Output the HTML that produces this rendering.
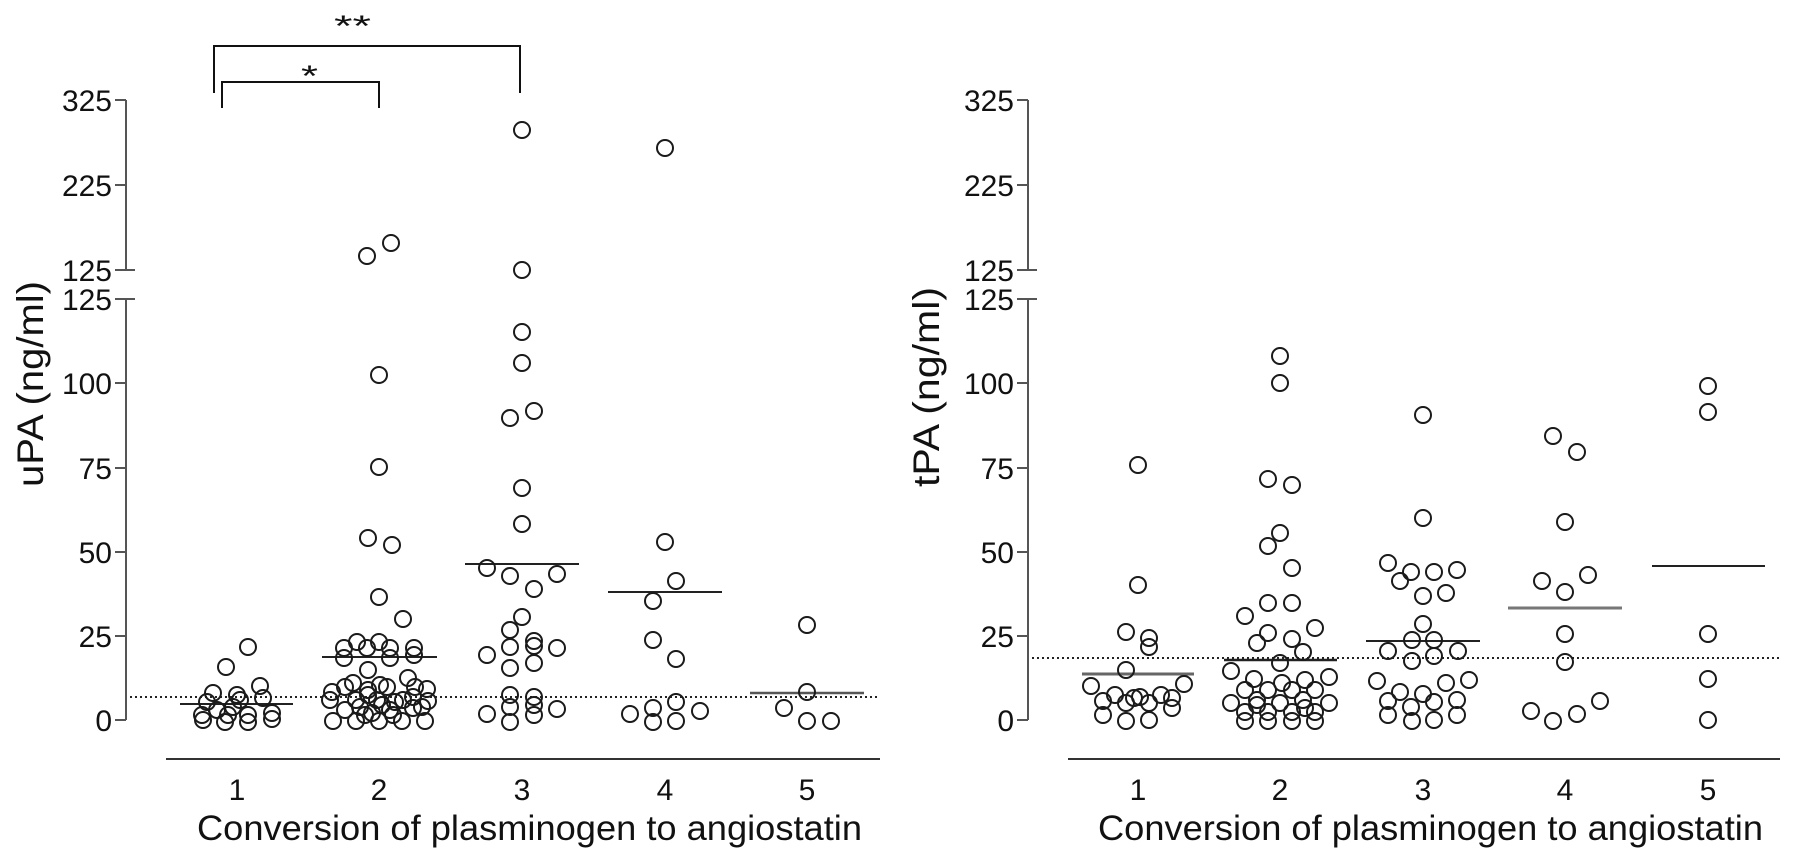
<!DOCTYPE html>
<html><head><meta charset="utf-8"><style>
html,body{margin:0;padding:0;background:#fff;}
svg{display:block;}
text{font-family:"Liberation Sans",Arial,sans-serif;fill:#111;}
.c circle{fill:none;stroke:#1a1a1a;stroke-width:2;}
</style></head><body>
<svg width="1795" height="860" viewBox="0 0 1795 860" xmlns="http://www.w3.org/2000/svg">
<rect width="1795" height="860" fill="#fff"/>

<!-- ============ LEFT PANEL ============ -->
<g stroke="#555" stroke-width="2" fill="none">
  <line x1="126" y1="100" x2="126" y2="270"/>
  <line x1="126" y1="299" x2="126" y2="720"/>
  <line x1="115" y1="100" x2="126" y2="100"/>
  <line x1="115" y1="185" x2="126" y2="185"/>
  <line x1="115" y1="270" x2="135" y2="270"/>
  <line x1="115" y1="299" x2="135" y2="299"/>
  <line x1="115" y1="383" x2="126" y2="383"/>
  <line x1="115" y1="468" x2="126" y2="468"/>
  <line x1="115" y1="552" x2="126" y2="552"/>
  <line x1="115" y1="636" x2="126" y2="636"/>
  <line x1="115" y1="720" x2="126" y2="720"/>
</g>
<g font-size="30" text-anchor="end">
  <text x="112" y="111">325</text>
  <text x="112" y="196">225</text>
  <text x="112" y="281">125</text>
  <text x="112" y="310">125</text>
  <text x="112" y="394">100</text>
  <text x="112" y="479">75</text>
  <text x="112" y="563">50</text>
  <text x="112" y="647">25</text>
  <text x="112" y="731">0</text>
</g>
<text transform="translate(43,384) rotate(-90)" font-size="37" text-anchor="middle" textLength="206" lengthAdjust="spacingAndGlyphs">uPA (ng/ml)</text>
<line x1="166" y1="759" x2="880" y2="759" stroke="#333" stroke-width="2"/>
<g font-size="30" text-anchor="middle">
  <text x="237" y="800">1</text>
  <text x="379" y="800">2</text>
  <text x="522" y="800">3</text>
  <text x="665" y="800">4</text>
  <text x="807" y="800">5</text>
</g>
<text x="197" y="840" font-size="35" textLength="665" lengthAdjust="spacingAndGlyphs">Conversion of plasminogen to angiostatin</text>

<!-- brackets -->
<g stroke="#111" stroke-width="2" fill="none">
  <polyline points="214,93 214,46 520,46 520,93"/>
  <polyline points="222,108 222,82 379,82 379,108"/>
</g>
<text x="334" y="36" font-size="30" textLength="37" lengthAdjust="spacingAndGlyphs">**</text>
<text x="301" y="86" font-size="30" textLength="17" lengthAdjust="spacingAndGlyphs">*</text>

<!-- dotted reference -->
<line x1="130" y1="697" x2="880" y2="697" stroke="#222" stroke-width="2" stroke-dasharray="2 3"/>

<!-- medians -->
<g stroke="#222" stroke-width="2">
  <line x1="180" y1="704" x2="293" y2="704"/>
  <line x1="322" y1="657" x2="437" y2="657"/>
  <line x1="465" y1="564" x2="579" y2="564"/>
  <line x1="608" y1="592" x2="722" y2="592"/>
  <line x1="750" y1="693" x2="864" y2="693" stroke="#555" stroke-width="2.5"/>
</g>

<g class="c">
<!-- group 1 -->
<circle cx="248" cy="647" r="8"/><circle cx="226" cy="667" r="8"/><circle cx="213" cy="693" r="8"/>
<circle cx="237" cy="695" r="8"/><circle cx="260" cy="686" r="8"/><circle cx="263" cy="698" r="8"/>
<circle cx="207" cy="702" r="8"/><circle cx="240" cy="700" r="8"/><circle cx="233" cy="707" r="8"/>
<circle cx="228" cy="715" r="8"/><circle cx="202" cy="715" r="8"/><circle cx="225" cy="722" r="8"/>
<circle cx="248" cy="715" r="8"/><circle cx="248" cy="722" r="8"/><circle cx="272" cy="713" r="8"/>
<circle cx="203" cy="720" r="8"/><circle cx="217" cy="710" r="8"/><circle cx="272" cy="719" r="8"/>
<!-- group 2 -->
<circle cx="367" cy="256" r="8"/><circle cx="391" cy="243" r="8"/>
<circle cx="379" cy="375" r="8"/><circle cx="379" cy="467" r="8"/><circle cx="368" cy="538" r="8"/>
<circle cx="392" cy="545" r="8"/><circle cx="379" cy="597" r="8"/><circle cx="403" cy="619" r="8"/>
<circle cx="357" cy="642" r="8"/><circle cx="379" cy="642" r="8"/><circle cx="344" cy="648" r="8"/>
<circle cx="367" cy="648" r="8"/><circle cx="390" cy="648" r="8"/><circle cx="414" cy="648" r="8"/>
<circle cx="344" cy="658" r="8"/><circle cx="390" cy="658" r="8"/><circle cx="414" cy="655" r="8"/>
<circle cx="368" cy="670" r="8"/>
<circle cx="332" cy="692" r="8"/><circle cx="345" cy="687" r="8"/><circle cx="353" cy="683" r="8"/>
<circle cx="368" cy="690" r="8"/><circle cx="380" cy="685" r="8"/><circle cx="387" cy="687" r="8"/>
<circle cx="408" cy="678" r="8"/><circle cx="415" cy="687" r="8"/><circle cx="427" cy="689" r="8"/>
<circle cx="330" cy="700" r="8"/><circle cx="356" cy="700" r="8"/><circle cx="368" cy="695" r="8"/>
<circle cx="377" cy="700" r="8"/><circle cx="395" cy="702" r="8"/><circle cx="403" cy="700" r="8"/>
<circle cx="428" cy="701" r="8"/><circle cx="413" cy="697" r="8"/>
<circle cx="345" cy="710" r="8"/><circle cx="360" cy="707" r="8"/><circle cx="382" cy="705" r="8"/>
<circle cx="390" cy="710" r="8"/><circle cx="413" cy="708" r="8"/><circle cx="422" cy="707" r="8"/>
<circle cx="333" cy="721" r="8"/><circle cx="356" cy="721" r="8"/><circle cx="379" cy="721" r="8"/>
<circle cx="402" cy="721" r="8"/><circle cx="425" cy="721" r="8"/>
<circle cx="365" cy="715" r="8"/><circle cx="372" cy="713" r="8"/><circle cx="393" cy="715" r="8"/>
<!-- group 3 -->
<circle cx="522" cy="130" r="8"/><circle cx="522" cy="270" r="8"/><circle cx="522" cy="332" r="8"/>
<circle cx="522" cy="363" r="8"/><circle cx="510" cy="418" r="8"/><circle cx="534" cy="411" r="8"/>
<circle cx="522" cy="488" r="8"/><circle cx="522" cy="524" r="8"/>
<circle cx="487" cy="568" r="8"/><circle cx="510" cy="576" r="8"/><circle cx="557" cy="574" r="8"/>
<circle cx="534" cy="589" r="8"/><circle cx="522" cy="617" r="8"/><circle cx="510" cy="630" r="8"/>
<circle cx="534" cy="641" r="8"/><circle cx="534" cy="646" r="8"/><circle cx="510" cy="647" r="8"/>
<circle cx="557" cy="648" r="8"/><circle cx="487" cy="655" r="8"/><circle cx="534" cy="663" r="8"/>
<circle cx="510" cy="668" r="8"/><circle cx="510" cy="695" r="8"/><circle cx="534" cy="697" r="8"/>
<circle cx="510" cy="707" r="8"/><circle cx="534" cy="705" r="8"/><circle cx="557" cy="709" r="8"/>
<circle cx="487" cy="714" r="8"/><circle cx="534" cy="715" r="8"/><circle cx="510" cy="722" r="8"/>
<!-- group 4 -->
<circle cx="665" cy="148" r="8"/><circle cx="665" cy="542" r="8"/><circle cx="676" cy="581" r="8"/>
<circle cx="653" cy="601" r="8"/><circle cx="653" cy="640" r="8"/><circle cx="676" cy="659" r="8"/>
<circle cx="676" cy="702" r="8"/><circle cx="630" cy="714" r="8"/><circle cx="653" cy="708" r="8"/>
<circle cx="653" cy="722" r="8"/><circle cx="676" cy="721" r="8"/><circle cx="700" cy="711" r="8"/>
<!-- group 5 -->
<circle cx="807" cy="625" r="8"/><circle cx="807" cy="692" r="8"/><circle cx="784" cy="708" r="8"/>
<circle cx="807" cy="721" r="8"/><circle cx="831" cy="721" r="8"/>
</g>

<!-- ============ RIGHT PANEL ============ -->
<g stroke="#555" stroke-width="2" fill="none">
  <line x1="1028" y1="100" x2="1028" y2="270"/>
  <line x1="1028" y1="299" x2="1028" y2="720"/>
  <line x1="1017" y1="100" x2="1028" y2="100"/>
  <line x1="1017" y1="185" x2="1028" y2="185"/>
  <line x1="1017" y1="270" x2="1037" y2="270"/>
  <line x1="1017" y1="299" x2="1037" y2="299"/>
  <line x1="1017" y1="383" x2="1028" y2="383"/>
  <line x1="1017" y1="468" x2="1028" y2="468"/>
  <line x1="1017" y1="552" x2="1028" y2="552"/>
  <line x1="1017" y1="636" x2="1028" y2="636"/>
  <line x1="1017" y1="720" x2="1028" y2="720"/>
</g>
<g font-size="30" text-anchor="end">
  <text x="1014" y="111">325</text>
  <text x="1014" y="196">225</text>
  <text x="1014" y="281">125</text>
  <text x="1014" y="310">125</text>
  <text x="1014" y="394">100</text>
  <text x="1014" y="479">75</text>
  <text x="1014" y="563">50</text>
  <text x="1014" y="647">25</text>
  <text x="1014" y="731">0</text>
</g>
<text transform="translate(939,387) rotate(-90)" font-size="37" text-anchor="middle" textLength="200" lengthAdjust="spacingAndGlyphs">tPA (ng/ml)</text>
<line x1="1068" y1="759" x2="1780" y2="759" stroke="#333" stroke-width="2"/>
<g font-size="30" text-anchor="middle">
  <text x="1138" y="800">1</text>
  <text x="1280" y="800">2</text>
  <text x="1423" y="800">3</text>
  <text x="1565" y="800">4</text>
  <text x="1708" y="800">5</text>
</g>
<text x="1098" y="840" font-size="35" textLength="665" lengthAdjust="spacingAndGlyphs">Conversion of plasminogen to angiostatin</text>

<line x1="1032" y1="658" x2="1782" y2="658" stroke="#222" stroke-width="2" stroke-dasharray="2 3"/>

<g stroke="#222" stroke-width="2">
  <line x1="1082" y1="674" x2="1194" y2="674" stroke="#666" stroke-width="3"/>
  <line x1="1224" y1="660" x2="1337" y2="660" stroke-width="2.5"/>
  <line x1="1366" y1="641" x2="1480" y2="641"/>
  <line x1="1508" y1="608" x2="1622" y2="608" stroke="#777" stroke-width="3"/>
  <line x1="1652" y1="566" x2="1765" y2="566"/>
</g>

<g class="c">
<!-- group 1 -->
<circle cx="1138" cy="465" r="8"/><circle cx="1138" cy="585" r="8"/><circle cx="1126" cy="632" r="8"/>
<circle cx="1149" cy="638" r="8"/><circle cx="1149" cy="647" r="8"/><circle cx="1126" cy="670" r="8"/>
<circle cx="1091" cy="686" r="8"/><circle cx="1184" cy="684" r="8"/><circle cx="1103" cy="701" r="8"/>
<circle cx="1115" cy="695" r="8"/><circle cx="1126" cy="703" r="8"/><circle cx="1134" cy="698" r="8"/>
<circle cx="1140" cy="697" r="8"/><circle cx="1149" cy="703" r="8"/><circle cx="1161" cy="695" r="8"/>
<circle cx="1172" cy="698" r="8"/><circle cx="1172" cy="708" r="8"/><circle cx="1103" cy="715" r="8"/>
<circle cx="1126" cy="721" r="8"/><circle cx="1149" cy="720" r="8"/>
<!-- group 2 -->
<circle cx="1280" cy="356" r="8"/><circle cx="1280" cy="383" r="8"/><circle cx="1268" cy="479" r="8"/>
<circle cx="1292" cy="485" r="8"/><circle cx="1280" cy="533" r="8"/><circle cx="1268" cy="546" r="8"/>
<circle cx="1292" cy="568" r="8"/><circle cx="1268" cy="603" r="8"/><circle cx="1292" cy="603" r="8"/>
<circle cx="1245" cy="616" r="8"/><circle cx="1315" cy="628" r="8"/><circle cx="1268" cy="633" r="8"/>
<circle cx="1257" cy="643" r="8"/><circle cx="1292" cy="639" r="8"/><circle cx="1303" cy="652" r="8"/>
<circle cx="1280" cy="663" r="8"/><circle cx="1231" cy="671" r="8"/><circle cx="1254" cy="679" r="8"/>
<circle cx="1282" cy="683" r="8"/><circle cx="1305" cy="680" r="8"/><circle cx="1329" cy="677" r="8"/>
<circle cx="1231" cy="703" r="8"/><circle cx="1245" cy="690" r="8"/><circle cx="1257" cy="700" r="8"/>
<circle cx="1268" cy="690" r="8"/><circle cx="1280" cy="703" r="8"/><circle cx="1292" cy="690" r="8"/>
<circle cx="1303" cy="700" r="8"/><circle cx="1315" cy="690" r="8"/><circle cx="1329" cy="703" r="8"/>
<circle cx="1245" cy="712" r="8"/><circle cx="1268" cy="712" r="8"/><circle cx="1292" cy="712" r="8"/>
<circle cx="1315" cy="712" r="8"/><circle cx="1245" cy="721" r="8"/><circle cx="1268" cy="721" r="8"/>
<circle cx="1292" cy="721" r="8"/><circle cx="1315" cy="721" r="8"/><circle cx="1257" cy="705" r="8"/>
<circle cx="1305" cy="708" r="8"/>
<!-- group 3 -->
<circle cx="1423" cy="415" r="8"/><circle cx="1423" cy="518" r="8"/><circle cx="1388" cy="563" r="8"/>
<circle cx="1400" cy="581" r="8"/><circle cx="1411" cy="572" r="8"/><circle cx="1434" cy="572" r="8"/>
<circle cx="1457" cy="570" r="8"/><circle cx="1423" cy="596" r="8"/><circle cx="1446" cy="593" r="8"/>
<circle cx="1423" cy="624" r="8"/><circle cx="1412" cy="640" r="8"/><circle cx="1434" cy="640" r="8"/>
<circle cx="1388" cy="651" r="8"/><circle cx="1458" cy="651" r="8"/><circle cx="1412" cy="661" r="8"/>
<circle cx="1434" cy="656" r="8"/><circle cx="1377" cy="681" r="8"/><circle cx="1446" cy="683" r="8"/>
<circle cx="1469" cy="680" r="8"/><circle cx="1400" cy="692" r="8"/><circle cx="1423" cy="694" r="8"/>
<circle cx="1388" cy="701" r="8"/><circle cx="1411" cy="707" r="8"/><circle cx="1434" cy="702" r="8"/>
<circle cx="1457" cy="700" r="8"/><circle cx="1388" cy="715" r="8"/><circle cx="1412" cy="721" r="8"/>
<circle cx="1434" cy="720" r="8"/><circle cx="1457" cy="715" r="8"/>
<!-- group 4 -->
<circle cx="1553" cy="436" r="8"/><circle cx="1577" cy="452" r="8"/><circle cx="1565" cy="522" r="8"/>
<circle cx="1542" cy="581" r="8"/><circle cx="1565" cy="592" r="8"/><circle cx="1588" cy="575" r="8"/>
<circle cx="1565" cy="634" r="8"/><circle cx="1565" cy="662" r="8"/><circle cx="1531" cy="711" r="8"/>
<circle cx="1553" cy="721" r="8"/><circle cx="1577" cy="714" r="8"/><circle cx="1600" cy="701" r="8"/>
<!-- group 5 -->
<circle cx="1708" cy="386" r="8"/><circle cx="1708" cy="412" r="8"/><circle cx="1708" cy="634" r="8"/>
<circle cx="1708" cy="679" r="8"/><circle cx="1708" cy="720" r="8"/>
</g>
</svg>
</body></html>
